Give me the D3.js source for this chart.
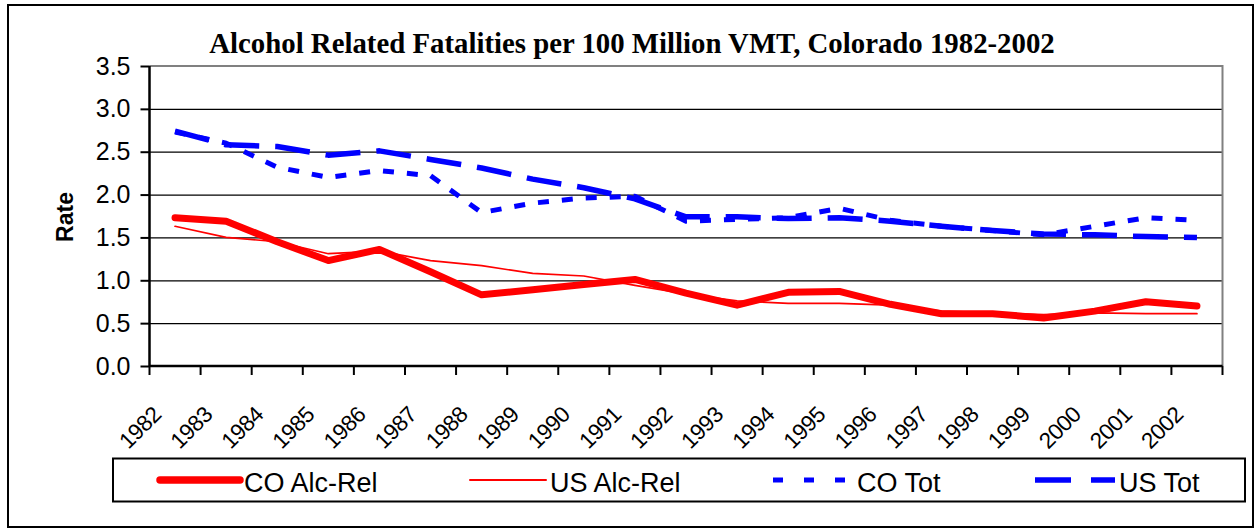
<!DOCTYPE html>
<meta charset="utf-8">
<head>
<style>
html, body {margin:0px; padding:0px; background:white;}
text {font-family: "Liberation Sans", Arial, sans-serif;}
</style>
</head>
<script src="https://d3js.org/d3.v7.min.js"></script>
<div id="chart"></div>
<script>

// data
var years = ["1982","1983","1984","1985","1986","1987","1988","1989","1990","1991","1992",
             "1993","1994","1995","1996","1997","1998","1999","2000","2001","2002"]
var coAlc = [1.73,1.69,1.45,1.23,1.36,1.10,0.83,0.89,0.95,1.01,0.85,0.71,0.86,0.87,0.72,0.61,0.61,0.56,0.64,0.75,0.70]
var usAlc = [1.63,1.50,1.45,1.31,1.34,1.23,1.17,1.08,1.05,0.94,0.84,0.76,0.73,0.73,0.71,0.64,0.62,0.60,0.62,0.61,0.61]
var coTot = [2.73,2.60,2.32,2.20,2.28,2.22,1.79,1.90,1.96,1.98,1.69,1.71,1.73,1.84,1.70,1.63,1.58,1.53,1.63,1.73,1.70]
var usTot = [2.74,2.58,2.56,2.46,2.51,2.41,2.31,2.18,2.08,1.95,1.74,1.74,1.72,1.73,1.69,1.63,1.58,1.54,1.53,1.51,1.50]
var yTicks = [0,0.5,1,1.5,2,2.5,3,3.5]

var series = [
  {name:"CO Alc-Rel", values:coAlc, color:"#ff0000", width:7,   dash:null,    legDash:null},
  {name:"US Alc-Rel", values:usAlc, color:"#ff0000", width:1.7, dash:null,    legDash:null},
  {name:"CO Tot",     values:coTot, color:"#0000ff", width:5,   dash:"11,13", legDash:"10,21"},
  {name:"US Tot",     values:usTot, color:"#0000ff", width:5.5, dash:"35,16", legDash:"36,20"}
]

var W = 1260, H = 529
var pLeft = 149.5, pRight = 1222.5, pTop = 66, pBottom = 366

var svg = d3.select("#chart").append("svg")
  .attr("width", W).attr("height", H)

// outer frame
svg.append("rect")
  .attr("x", 8).attr("y", 5).attr("width", 1245).attr("height", 522)
  .attr("fill", "white").attr("stroke", "black").attr("stroke-width", 2)

var x = d3.scaleBand().domain(years).range([pLeft, pRight])
var y = d3.scaleLinear().domain([0, 3.5]).range([pBottom, pTop])
var cx = function(i) { return x(years[i]) + x.bandwidth()/2 }

// gridlines
svg.append("g")
  .attr("transform", "translate(" + pLeft + ",0)")
  .call(d3.axisLeft(y).tickValues(yTicks.slice(1, 7)).tickSize(-(pRight-pLeft)).tickFormat(""))
  .call(function(g){ g.select(".domain").remove() })
  .selectAll("line").attr("stroke", "black").attr("stroke-width", 1.2)

// gray top/right border of plot area
svg.append("path")
  .attr("d", "M" + pLeft + "," + pTop + "H" + pRight + "V" + pBottom)
  .attr("fill", "none").attr("stroke", "#808080").attr("stroke-width", 2)

// y axis
var yAx = svg.append("g")
  .attr("transform", "translate(" + pLeft + ",0)")
  .call(d3.axisLeft(y).tickValues(yTicks).tickSize(9).tickPadding(10).tickFormat(d3.format(".1f")))
yAx.select(".domain").attr("stroke", "black").attr("stroke-width", 2.5)
  .attr("d", "M0," + pTop + "V" + pBottom)
yAx.selectAll("line").attr("stroke-width", 2)
yAx.selectAll("text").attr("font-size", 25).attr("font-family", "Liberation Sans, Arial").attr("fill", "black")

// x axis: ticks between categories
var bounds = years.map(function(d){ return x(d) }).concat([pRight])
svg.append("line").attr("x1", pLeft).attr("x2", pRight).attr("y1", pBottom).attr("y2", pBottom)
  .attr("stroke", "black").attr("stroke-width", 2.5)
svg.selectAll(".xt").data(bounds).enter().append("line")
  .attr("x1", function(d){ return d }).attr("x2", function(d){ return d })
  .attr("y1", pBottom).attr("y2", pBottom + 9)
  .attr("stroke", "black").attr("stroke-width", 2)

svg.selectAll(".xl").data(years).enter().append("text")
  .attr("transform", function(d){ return "translate(" + (x(d) + x.bandwidth()/2 - 12.5) + "," + (pBottom + 50) + ") rotate(-45)" })
  .attr("text-anchor", "end")
  .attr("font-size", 22.5)
  .attr("letter-spacing", -0.5)
  .text(function(d){ return d })

// axis title
svg.append("text")
  .attr("transform", "translate(73,217) rotate(-90)")
  .attr("text-anchor", "middle")
  .attr("font-size", 23).attr("font-weight", "bold")
  .text("Rate")

// chart title
svg.append("text")
  .attr("x", 632).attr("y", 53)
  .attr("text-anchor", "middle")
  .style("font-family", "'Liberation Serif', 'Times New Roman', serif")
  .attr("font-size", 28.8).attr("font-weight", "bold")
  .text("Alcohol Related Fatalities per 100 Million VMT, Colorado 1982-2002")

// lines
var line = d3.line()
  .x(function(d, i){ return cx(i) })
  .y(function(d){ return y(d) })

series.forEach(function(s){
  svg.append("path")
    .attr("d", line(s.values))
    .attr("fill", "none")
    .attr("stroke", s.color)
    .attr("stroke-width", s.width)
    .attr("stroke-linejoin", "round")
    .attr("stroke-linecap", s.dash ? "butt" : "round")
    .attr("stroke-dasharray", s.dash)
})

// legend
svg.append("rect")
  .attr("x", 113).attr("y", 458.5).attr("width", 1132).attr("height", 43)
  .attr("fill", "white").attr("stroke", "black").attr("stroke-width", 2)

var legX = [160, 470, 773, 1035]
var legW = [80, 76, 80, 80]
var leg = svg.selectAll(".leg").data(series).enter().append("g")
  .attr("transform", function(d, i){ return "translate(" + legX[i] + ",480)" })
leg.append("line")
  .attr("x1", 0).attr("x2", function(d, i){ return legW[i] })
  .attr("y1", 0).attr("y2", 0)
  .attr("stroke", function(d){ return d.color })
  .attr("stroke-width", function(d){ return d.name == "CO Alc-Rel" ? 7.5 : (d.name == "US Alc-Rel" ? 2 : d.width) })
  .attr("stroke-linecap", function(d){ return d.dash ? "butt" : "round" })
  .attr("stroke-dasharray", function(d){ return d.legDash })
leg.append("text")
  .attr("x", function(d, i){ return legW[i] + 4 })
  .attr("y", 12)
  .attr("font-size", 27)
  .text(function(d){ return d.name })

</script>
</html>
